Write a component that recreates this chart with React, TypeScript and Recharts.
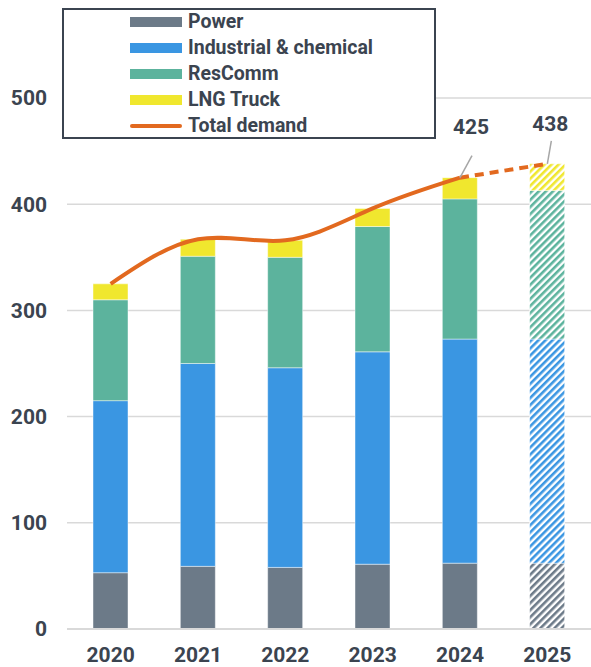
import { ComposedChart, Bar, Line, XAxis, YAxis, CartesianGrid, Cell, LabelList } from 'recharts'

// demand by segment
const years = ['2020', '2021', '2022', '2023', '2024', '2025']
const power = [53, 59, 58, 61, 62, 62]
const industrial = [162, 191, 188, 200, 211, 211]
const resComm = [95, 101, 104, 118, 132, 140]
const lngTruck = [15, 16, 16, 17, 20, 25]
const totalDemand = [325, 367, 366, 396, 425, 438]
const yTicks = [0, 100, 200, 300, 400, 500]
const forecastYear = '2025'

const TEXT = '#3b4450'
const GRID = '#d9d9d9'
const LINE = '#e2691f'

const series = [
  { key: 'power', name: 'Power', color: '#6c7a88' },
  { key: 'industrial', name: 'Industrial & chemical', color: '#3a96e2' },
  { key: 'resComm', name: 'ResComm', color: '#5cb39d' },
  { key: 'lngTruck', name: 'LNG Truck', color: '#f0e72e' },
]

const lastActual = years.indexOf(forecastYear) - 1

const data = years.map((year, i) => ({
  year,
  power: power[i],
  industrial: industrial[i],
  resComm: resComm[i],
  lngTruck: lngTruck[i],
  solid: i <= lastActual ? totalDemand[i] : null,
  dashed: i >= lastActual ? totalDemand[i] : null,
}))

// where the callout text and its leader sit relative to the point
const calloutOffsets: Record<number, { lx: number; ly: number; tx: number; ty: number }> = {
  0: { lx: 12, ly: -22, tx: 11, ty: -44 },
  1: { lx: 4, ly: -23, tx: 3, ty: -33 },
}

const Callout = (props: any) => {
  const { x, y, value, index } = props
  if (value == null) return null
  const o = calloutOffsets[index - lastActual]
  if (!o) return null
  return (
    <g>
      <line x1={x} y1={y} x2={x + o.lx} y2={y + o.ly} stroke="#a6a6a6" strokeWidth={1.5} />
      <text
        x={x + o.tx}
        y={y + o.ty}
        textAnchor="middle"
        fill={TEXT}
        fontSize={21}
        fontWeight={700}
        fontFamily="Roboto, sans-serif"
      >
        {value}
      </text>
    </g>
  )
}

const LegendBox = () => (
  <div
    style={{
      position: 'absolute',
      left: 62,
      top: 8,
      width: 374,
      height: 131,
      boxSizing: 'border-box',
      border: `2px solid ${TEXT}`,
      background: '#fff',
      fontFamily: 'Roboto, sans-serif',
      fontWeight: 700,
      fontSize: 19.5,
      color: TEXT,
    }}
  >
    <div style={{ marginTop: -1 }}>
      {series.map((s) => (
        <div key={s.key} style={{ display: 'flex', alignItems: 'center', height: 26, lineHeight: '26px' }}>
          <span style={{ display: 'inline-block', width: 52, height: 10, marginLeft: 66, marginRight: 6, background: s.color }} />
          <span>{s.name}</span>
        </div>
      ))}
      <div style={{ display: 'flex', alignItems: 'center', height: 26, lineHeight: '26px' }}>
        <span style={{ display: 'inline-block', width: 52, height: 4, borderRadius: 2, marginLeft: 66, marginRight: 6, background: LINE }} />
        <span>Total demand</span>
      </div>
    </div>
  </div>
)

export default function App() {
  return (
    <div style={{ position: 'absolute', left: 0, top: 0, width: 591, height: 667, background: '#fff' }}>
      <ComposedChart width={591} height={667} data={data} margin={{ top: 98, right: 0, bottom: 0, left: 0 }} barCategoryGap={0}>
        <defs>
          {series.map((s) => (
            <pattern
              key={s.key}
              id={`hatch-${s.key}`}
              patternUnits="userSpaceOnUse"
              width={5}
              height={5}
              patternTransform="rotate(45)"
            >
              <rect width={5} height={5} fill="#fff" />
              <rect width={2.6} height={5} fill={s.color} />
            </pattern>
          ))}
        </defs>
        <CartesianGrid vertical={false} stroke={GRID} strokeWidth={1.5} />
        <XAxis
          dataKey="year"
          height={38}
          tickLine={false}
          axisLine={{ stroke: GRID, strokeWidth: 2 }}
          tickMargin={12}
          tick={{ fill: TEXT, fontSize: 21, fontWeight: 700, fontFamily: 'Roboto, sans-serif' }}
        />
        <YAxis
          width={67}
          domain={[0, 500]}
          ticks={yTicks}
          axisLine={false}
          tickLine={false}
          tickMargin={14}
          tick={{ fill: TEXT, fontSize: 21, fontWeight: 700, fontFamily: 'Roboto, sans-serif' }}
        />
        {series.map((s) => (
          <Bar
            key={s.key}
            dataKey={s.key}
            name={s.name}
            stackId="demand"
            barSize={35}
            stroke="#ffffff"
            strokeOpacity={0.45}
            strokeWidth={1}
            isAnimationActive={false}
          >
            {data.map((d) => (
              <Cell key={d.year} fill={d.year === forecastYear ? `url(#hatch-${s.key})` : s.color} />
            ))}
          </Bar>
        ))}
        <Line
          dataKey="solid"
          name="Total demand"
          type="natural"
          stroke={LINE}
          strokeWidth={4}
          dot={false}
          activeDot={false}
          isAnimationActive={false}
        />
        <Line
          dataKey="dashed"
          type="natural"
          stroke={LINE}
          strokeWidth={4}
          strokeDasharray="9 6"
          dot={false}
          activeDot={false}
          legendType="none"
          isAnimationActive={false}
        >
          <LabelList dataKey="dashed" content={<Callout />} />
        </Line>
      </ComposedChart>
      <LegendBox />
    </div>
  )
}
